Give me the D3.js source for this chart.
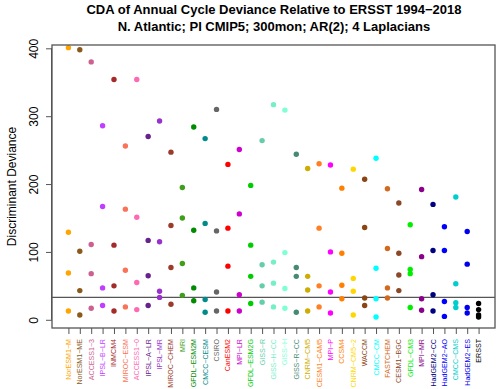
<!DOCTYPE html>
<html>
<head>
<meta charset="utf-8">
<script src="https://cdn.jsdelivr.net/npm/d3@7"></script>
<style>
  body { margin: 0; background: #fff; }
  text { font-family: "Liberation Sans", Arial, sans-serif; }
</style>
</head>
<body>
<div id="chart"></div>
<script>
const models = [
  "NorESM1−M", "NorESM1−ME", "ACCESS1−3", "IPSL−B−LR", "INMCM4", "MIROC−ESM",
  "ACCESS1−0", "IPSL−A−LR", "IPSL−MR", "MIROC−CHEM", "MRI", "GFDL−ESM2M",
  "CMCC−CESM", "CSIRO", "CanESM2", "MPI−LR", "GFDL−ESM2G", "GISS−R",
  "GISS−H−CC", "GISS−H", "GISS−R−CC", "CNRM−CM5", "CESM1−CAM5", "MPI−P",
  "CCSM4", "CNRM−CM5−2", "WACCM", "CMCC−CM", "FASTCHEM", "CESM1−BGC",
  "GFDL−CM3", "MPI−MR", "HadGEM2−CC", "HadGEM2−AO", "CMCC−CMS", "HadGEM2−ES",
  "ERSST"
];

const colors = [
  "#ffa500", "#8b5a1a", "#cd6090", "#bf3eff", "#a52a2a", "#fa7257",
  "#ff69b4", "#68228b", "#9932cc", "#9b3b2b", "#3ea01a", "#008b00",
  "#008b8b", "#666666", "#ff0000", "#cd00cd", "#00cd00", "#66cdaa",
  "#76eec6", "#7fffd4", "#458b74", "#cdad00", "#ff7f24", "#ff00ff",
  "#ff7f00", "#ffd700", "#8b4513", "#00ffff", "#d2691e", "#8b4726",
  "#00ee00", "#8b008b", "#000080", "#0000ff", "#00cdcd", "#0000ee",
  "#000000"
];

// deviance values, one array per level (largest to smallest)
const dev1 = [401, 398, 380, 286, 354, 256, 354, 270, 293, 247, 195, 284,
  267, 310, 229, 251, 198, 264, 317, 309, 244, 223, 230, 228,
  194, 222, 207, 238, 193, 172, 140, 192, 170, 137, 181, 130, 24];
const dev2 = [129, 101, 111, 167, 110, 163, 151, 117, 115, 139, 150, 132,
  142, 131, 135, 156, 110, 81, 85, 99, 77, 64, 135, 100,
  98, 61, 136, 76, 105, 98, 74, 93, 102, 102, 53, 82, 15];
const dev3 = [69, 43, 68, 47, 50, 73, 55, 65, 42, 77, 83, 47,
  30, 41, 79, 37, 64, 50, 54, 46, 64, 44, 50, 41,
  51, 42, 32, 31, 47, 66, 68, 31, 37, 27, 25, 18, 7];
const dev4 = [13, 7, 17, 21, 13, 19, 15, 21, 33, 23, 36, 28,
  11, 13, 13, 13, 24, 26, 19, 17, 11, 13, 19, 10,
  31, 7, 21, 4, 32, 43, 18, 14, 13, 5, 18, 10, 4];

const threshold = 33;
const yTicks = [0, 100, 200, 300, 400];

const width = 500, height = 389;
const margin = { top: 45, right: 5, bottom: 61, left: 52 };

const svg = d3.select("#chart").append("svg")
  .attr("width", width)
  .attr("height", height);

const x = d3.scaleLinear()
  .domain([1 - 36 * 0.04, 37 + 36 * 0.04])
  .range([margin.left, width - margin.right]);

const y = d3.scaleLinear()
  .domain([-12.1, 404.9])
  .range([height - margin.bottom, margin.top]);

// Title
svg.append("text")
  .attr("x", 274).attr("y", 14)
  .attr("text-anchor", "middle")
  .style("font-weight", "bold").style("font-size", "13px")
  .text("CDA of Annual Cycle Deviance Relative to ERSST 1994−2018");
svg.append("text")
  .attr("x", 274).attr("y", 31)
  .attr("text-anchor", "middle")
  .style("font-weight", "bold").style("font-size", "13px")
  .text("N. Atlantic; PI CMIP5; 300mon; AR(2); 4 Laplacians");

// Y axis
const yAxis = svg.append("g")
  .attr("transform", `translate(${margin.left},0)`)
  .call(d3.axisLeft(y).tickValues(yTicks).tickSize(6).tickFormat(d3.format("d")));
yAxis.select(".domain").attr("d", `M-0.5,${y(0)}V${y(400)}`).attr("stroke", "#555");
yAxis.selectAll(".tick line").attr("stroke", "#555");
yAxis.selectAll(".tick text")
  .attr("x", null).attr("dy", null)
  .attr("text-anchor", "middle")
  .attr("transform", "translate(-14,0) rotate(-90)")
  .style("font-size", "12px").attr("fill", "#000");

svg.append("text")
  .attr("transform", `translate(16,${(margin.top + height - margin.bottom) / 2}) rotate(-90)`)
  .attr("text-anchor", "middle")
  .style("font-size", "12px")
  .text("Discriminant Deviance");

// X axis
const xAxis = svg.append("g")
  .attr("transform", `translate(0,${height - margin.bottom})`)
  .call(d3.axisBottom(x).tickValues(d3.range(1, 38)).tickSize(6).tickFormat(""));
xAxis.select(".domain").remove();
xAxis.selectAll(".tick line").attr("stroke", "#555");

svg.append("g").selectAll("text")
  .data(models)
  .join("text")
  .attr("transform", (d, i) => `translate(${x(i + 1) + 2.5},${height - margin.bottom + 11}) rotate(-90)`)
  .attr("text-anchor", "end")
  .style("font-size", "7.1px")
  .attr("fill", (d, i) => colors[i])
  .text(d => d);

// threshold line
svg.append("line")
  .attr("x1", margin.left).attr("x2", width - margin.right)
  .attr("y1", y(threshold)).attr("y2", y(threshold))
  .attr("stroke", "#555").attr("stroke-width", 1.3);

// points
const points = [dev1, dev2, dev3, dev4].flatMap(arr =>
  arr.map((v, i) => ({ i, v })));
svg.append("g").selectAll("circle")
  .data(points)
  .join("circle")
  .attr("cx", d => x(d.i + 1))
  .attr("cy", d => y(d.v))
  .attr("r", 2.7)
  .attr("fill", d => colors[d.i]);

// box
svg.append("rect")
  .attr("x", margin.left).attr("y", margin.top)
  .attr("width", width - margin.left - margin.right)
  .attr("height", height - margin.top - margin.bottom)
  .attr("fill", "none").attr("stroke", "#555").attr("stroke-width", 1.3);
</script>
</body>
</html>
